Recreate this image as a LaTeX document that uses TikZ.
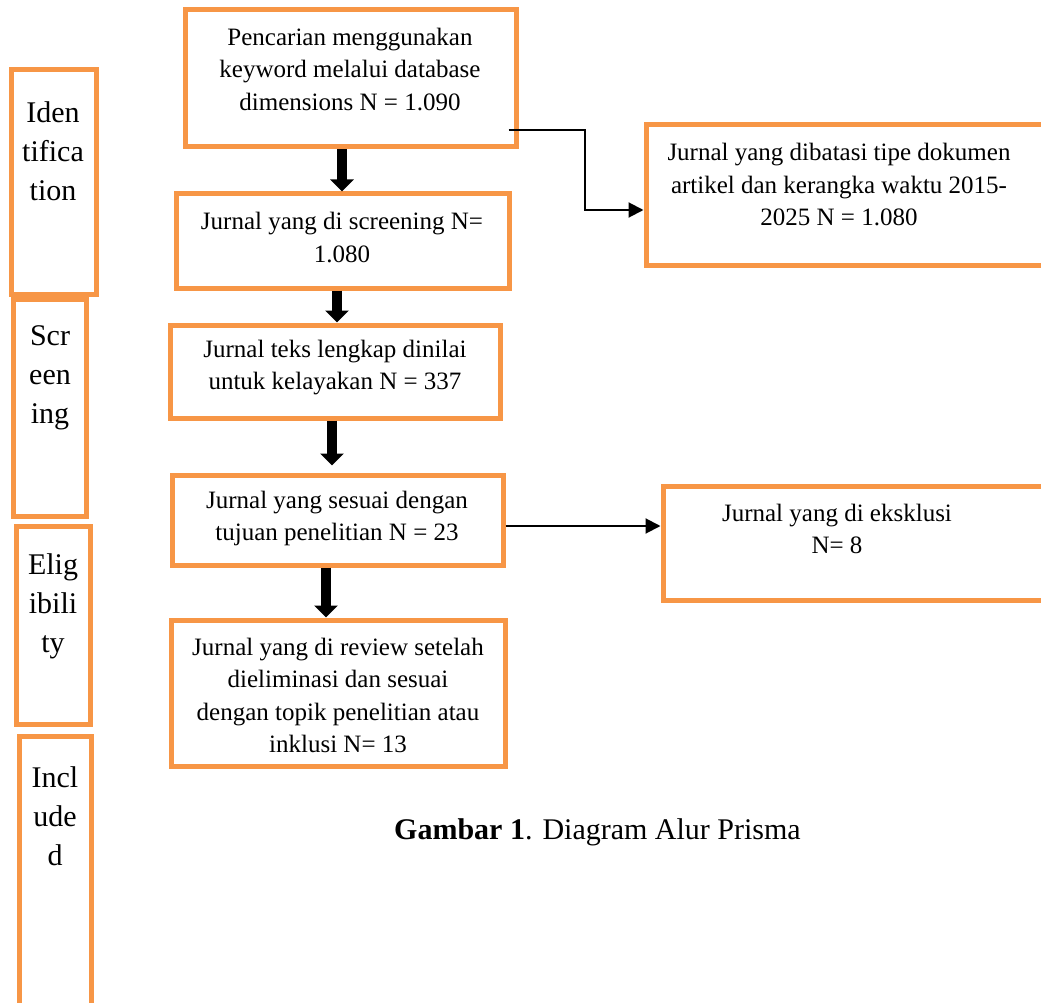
\documentclass[tikz,border=0pt]{standalone}
\usepackage{fontspec}
\setmainfont{Liberation Serif}
\usetikzlibrary{arrows.meta}
\definecolor{boxorange}{HTML}{F79646}
\begin{document}
\begin{tikzpicture}[x=1pt,y=-1pt,
  box/.style={draw=boxorange, line width=5pt, rectangle, inner sep=0pt},
  txt/.style={align=center, inner sep=0pt, font=\fontsize{25}{32.5}\selectfont},
  side/.style={align=center, inner sep=0pt, font=\fontsize{30}{39}\selectfont},
  bigarrow/.style={line width=10pt, -{Triangle[width=23pt,length=12pt]}},
  thinarrow/.style={line width=2pt, -{Triangle[width=15pt,length=15pt]}}]
\useasboundingbox (0,0) rectangle (1041,1003);
\fill[white] (0,0) rectangle (1041,1003);
\clip (0,0) rectangle (1041,1003);

% stage boxes (left)
\node[box, minimum width=85pt, minimum height=224pt] (sId) at (53.5,182) {};
\node[box, minimum width=73pt, minimum height=217pt] (sSc) at (49.5,407.5) {};
\node[box, minimum width=74pt, minimum height=198pt] (sEl) at (53,625) {};
\node[box, minimum width=72pt, minimum height=284pt] (sIn) at (55,878) {};
\node[side] (tId) at (53,151) {Iden\\tifica\\tion};
\node[side] (tSc) at (50,377.5) {Scr\\een\\ing};
\node[side] (tEl) at (53,606) {Elig\\ibili\\ty};
\node[side] (tIn) at (55,816) {Incl\\ude\\d};

% main flow boxes
\node[box, minimum width=331pt, minimum height=137pt] (b1) at (350.5,78.5) {};
\node[box, minimum width=333pt, minimum height=94pt] (b2) at (342.5,241) {};
\node[box, minimum width=330pt, minimum height=93pt] (b3) at (335,371.5) {};
\node[box, minimum width=331pt, minimum height=90pt] (b4) at (337.5,520) {};
\node[box, minimum width=334pt, minimum height=146pt] (b6) at (338,693) {};
\node[box, minimum width=414pt, minimum height=140pt] (r1) at (853,195) {};
\node[box, minimum width=397pt, minimum height=114pt] (r2) at (861.5,543) {};

\node[txt] (t1) at (350,69.5) {Pencarian menggunakan\\keyword melalui database\\dimensions N = 1.090};
\node[txt] (t2) at (342,237.5) {Jurnal yang di screening N=\\1.080};
\node[txt] (t3) at (335,367.5) {Jurnal teks lengkap dinilai\\untuk kelayakan N = 337};
\node[txt] (t4) at (337,518.5) {Jurnal yang sesuai dengan\\tujuan penelitian N = 23};
\node[txt] (t6) at (338,695.5) {Jurnal yang di review setelah\\dieliminasi dan sesuai\\dengan topik penelitian atau\\inklusi N= 13};
\node[txt] (tr1) at (839,185) {Jurnal yang dibatasi tipe dokumen\\artikel dan kerangka waktu 2015-\\2025 N = 1.080};
\node[txt] (tr2) at (837,529) {Jurnal yang di eksklusi\\N= 8};

% thick arrows
\draw[bigarrow] ([xshift=-8.5pt]b1.south) -- ([xshift=-8.5pt]b1.south |- b2.north);
\draw[bigarrow] ([xshift=-5.5pt]b2.south) -- ([xshift=-5.5pt]b2.south |- b3.north);
\draw[bigarrow, shorten >=7pt] ([xshift=-3pt]b3.south) -- ([xshift=-3pt]b3.south |- b4.north);
\draw[bigarrow] ([xshift=-11.5pt]b4.south) -- ([xshift=-11.5pt]b4.south |- b6.north);

% side connectors
\coordinate (c1) at (585,170);
\draw[thinarrow] ([xshift=-10pt,yshift=-51.5pt]b1.east) -| (c1) |- ([yshift=-15pt]r1.west);
\draw[thinarrow] ([yshift=-6pt]b4.east) -- ([yshift=-6pt]b4.east -| r2.west);

% caption
\node[inner sep=0pt, font=\fontsize{30}{36}\selectfont] (cap) at (597.5,832) {\textbf{Gambar 1}. Diagram Alur Prisma};
\end{tikzpicture}
\end{document}
